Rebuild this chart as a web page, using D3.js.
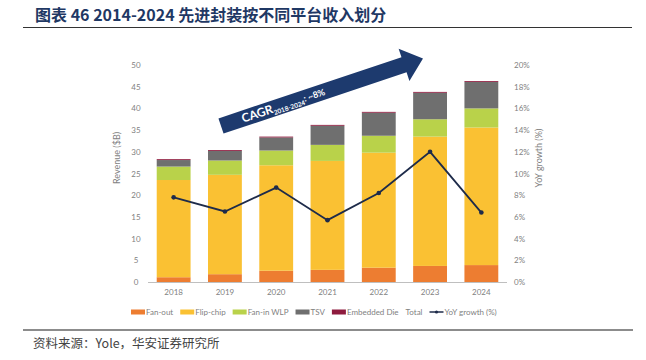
<!DOCTYPE html>
<html><head><meta charset="utf-8">
<script src="https://cdn.jsdelivr.net/npm/d3@7"></script>
<style>body{margin:0;background:#fff}svg{display:block}</style>
</head><body>
<svg id="c" width="646" height="360"></svg>
<script>
const years = ["2018","2019","2020","2021","2022","2023","2024"];
const fanOut   = [1.1, 1.8, 2.6, 2.8, 3.3, 3.7, 3.9];
const flipChip = [22.4, 22.9, 24.3, 25.1, 26.5, 29.8, 31.7];
const fanInWLP = [3.1, 3.3, 3.4, 3.7, 3.9, 4.0, 4.4];
const tsv      = [1.5, 2.2, 3.0, 4.4, 5.3, 6.1, 6.1];
const embedded = [0.2, 0.2, 0.2, 0.2, 0.2, 0.2, 0.2];
const yoy      = [7.8, 6.5, 8.7, 5.7, 8.2, 12.0, 6.4];
const leftTicks  = [0,5,10,15,20,25,30,35,40,45,50];
const rightTicks = [0,2,4,6,8,10,12,14,16,18,20];
const seriesNames = ["Fan-out","Flip-chip","Fan-in WLP","TSV","Embedded Die"];
const colors = ["#ED7D31","#FAC133","#B9D24A","#6F6F6F","#8E1B3E"];
const titleText = "图表 46 2014-2024 先进封装按不同平台收入划分";
const sourceText = "资料来源：Yole，华安证券研究所";

const svg = d3.select("#c");
const FONT = "Lato, 'Open Sans', sans-serif";

// title
svg.append("text").attr("x",35).attr("y",21).text(titleText)
  .attr("font-family","'Noto Sans CJK SC', sans-serif").attr("font-weight","bold")
  .attr("font-size",16).attr("fill","#1F3864");
svg.append("line").attr("x1",23).attr("x2",632).attr("y1",27.5).attr("y2",27.5)
  .attr("stroke","#333").attr("stroke-width",1.2);
svg.append("line").attr("x1",23).attr("x2",633).attr("y1",330).attr("y2",330)
  .attr("stroke","#8c8c8c").attr("stroke-width",2);
svg.append("text").attr("x",33).attr("y",348).text(sourceText)
  .attr("font-family","'Noto Sans CJK SC', serif").attr("font-size",12.5).attr("fill","#444");

const x = d3.scaleBand().domain(years).range([148,507]).paddingInner(0.34).paddingOuter(0.17);
const y = d3.scaleLinear().domain([0,50]).range([282,65]);
const y2 = d3.scaleLinear().domain([0,20]).range([282,65]);

// stacked data
const table = years.map((yr,i)=>({year:yr,"Fan-out":fanOut[i],"Flip-chip":flipChip[i],"Fan-in WLP":fanInWLP[i],"TSV":tsv[i],"Embedded Die":embedded[i]}));
const stack = d3.stack().keys(seriesNames)(table);
svg.append("g").selectAll("g").data(stack).join("g").attr("fill",(d,i)=>colors[i])
  .selectAll("rect").data(d=>d).join("rect")
  .attr("x",d=>x(d.data.year)).attr("width",x.bandwidth())
  .attr("y",d=>y(d[1])).attr("height",d=>Math.max(0,y(d[0])-y(d[1])));

// axis baseline
svg.append("line").attr("x1",148).attr("x2",507).attr("y1",282.5).attr("y2",282.5).attr("stroke","#bfbfbf");

// left axis
const ga = svg.append("g").attr("transform","translate(140,0)")
  .call(d3.axisLeft(y).tickValues(leftTicks).tickSize(0).tickPadding(0));
ga.select(".domain").remove();
ga.selectAll("text").attr("font-family",FONT).attr("font-size",8).attr("fill","#7f7f7f").attr("text-anchor","middle").attr("dx",-4);
// right axis
const gb = svg.append("g").attr("transform","translate(514,0)")
  .call(d3.axisRight(y2).tickValues(rightTicks).tickSize(0).tickPadding(0).tickFormat(d=>d+"%"));
gb.select(".domain").remove();
gb.selectAll("text").attr("font-family",FONT).attr("font-size",8).attr("fill","#7f7f7f");
// x axis
const gx = svg.append("g").attr("transform","translate(0,288)")
  .call(d3.axisBottom(x).tickSize(0).tickPadding(0));
gx.select(".domain").remove();
gx.selectAll("text").attr("font-family",FONT).attr("font-size",8).attr("fill","#7f7f7f").attr("dy","0.9em");

// axis titles
svg.append("text").attr("transform","translate(120,158) rotate(-90)").attr("text-anchor","middle")
  .text("Revenue ($B)").attr("font-family",FONT).attr("font-size",9).attr("fill","#7f7f7f");
svg.append("text").attr("transform","translate(542,158) rotate(-90)").attr("text-anchor","middle")
  .text("YoY growth (%)").attr("font-family",FONT).attr("font-size",9).attr("fill","#7f7f7f");

// yoy line
const line = d3.line().x((d,i)=>x(years[i])+x.bandwidth()/2).y(d=>y2(d));
svg.append("path").datum(yoy).attr("d",line).attr("fill","none").attr("stroke","#1E2B4A").attr("stroke-width",1.8);
svg.append("g").selectAll("circle").data(yoy).join("circle")
  .attr("cx",(d,i)=>x(years[i])+x.bandwidth()/2).attr("cy",d=>y2(d)).attr("r",2.3).attr("fill","#1E2B4A");

// CAGR arrow
const L = 213, sw = 16, hw = 34, hl = 20;
const ag = svg.append("g").attr("transform","translate(221,126) rotate(-18.5)");
ag.append("path").attr("d",`M0,${-sw/2} L${L-hl},${-sw/2} L${L-hl},${-hw/2} L${L},0 L${L-hl},${hw/2} L${L-hl},${sw/2} L0,${sw/2} Z`)
  .attr("fill","#1D3A6E");
const at = ag.append("text").attr("x",22).attr("y",4).attr("fill","#fff").attr("font-family",FONT).attr("font-weight","bold");
at.append("tspan").text("CAGR").attr("font-size",12);
at.append("tspan").text("2018-2024").attr("font-size",6.5).attr("dy",2.5);
at.append("tspan").text(": ~8%").attr("font-size",9).attr("dy",-3);

// legend
const leg = svg.append("g").attr("transform","translate(0,312)");
const items = seriesNames.map((n,i)=>({name:n,type:"rect",color:colors[i]}))
  .concat([{name:"Total",type:"none"},{name:"YoY growth (%)",type:"line",color:"#1E2B4A"}]);
let cx = 131;
items.forEach(it=>{
  if(it.type==="rect"){ leg.append("rect").attr("x",cx).attr("y",-2.5).attr("width",14).attr("height",5).attr("fill",it.color); cx+=15; }
  else if(it.type==="line"){ leg.append("line").attr("x1",cx).attr("x2",cx+14).attr("y1",0).attr("y2",0).attr("stroke",it.color).attr("stroke-width",1.5);
    leg.append("circle").attr("cx",cx+7).attr("cy",0).attr("r",1.6).attr("fill",it.color); cx+=15; }
  const t = leg.append("text").attr("x",cx).attr("y",3).text(it.name).attr("font-family",FONT).attr("font-size",8).attr("fill","#7f7f7f");
  cx += t.node().getComputedTextLength()+7;
});
</script>
</body></html>
